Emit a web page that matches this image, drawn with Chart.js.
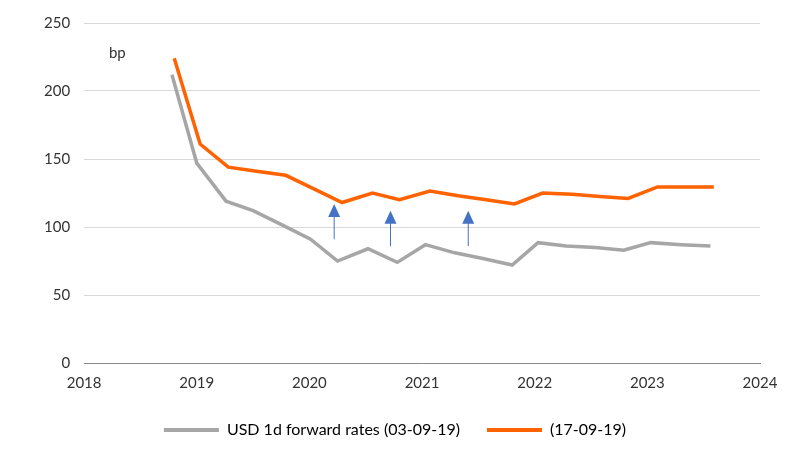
<!DOCTYPE html>
<html><head><meta charset="utf-8">
<script src="https://cdn.jsdelivr.net/npm/chart.js@4"></script>
<style>html,body{margin:0;background:#fff}#w{width:800px;height:462px}</style>
</head><body><div id="w"><canvas id="c"></canvas></div>
<script>
const grayX=[2018.78,2019.0,2019.26,2019.5,2019.77,2020.01,2020.25,2020.52,2020.78,2021.03,2021.29,2021.53,2021.8,2022.03,2022.28,2022.54,2022.79,2023.03,2023.3,2023.56];
const grayY=[212,147,119,112,101,91,75,84,74,87,81,77,72,88.5,86,85,83,88.5,87,86];
const orangeX=[2018.8,2019.03,2019.28,2019.53,2019.79,2020.04,2020.29,2020.56,2020.8,2021.07,2021.32,2021.57,2021.82,2022.07,2022.33,2022.58,2022.83,2023.09,2023.34,2023.59];
const orangeY=[224,161,144,141,138,128,118,125,120,126.5,123,120,117,125,124,122.5,121,129.5,129.5,129.5];
const arrowX=[2020.22,2020.72,2021.41];
const arrowFrom=[91,86,86];
const arrowTo=[117,112,112];
const seriesNames=['USD 1d forward rates (03-09-19)','(17-09-19)'];
const pts=(xs,ys)=>xs.map((x,i)=>({x,y:ys[i]}));
const extras={id:'extras',afterDatasetsDraw(ch){
 const {ctx,scales:{x,y}}=ch;ctx.save();
 ctx.fillStyle='#333';ctx.font='15px Lato';ctx.textAlign='left';ctx.textBaseline='middle';
 ctx.fillText('bp',x.getPixelForValue(2018.22),y.getPixelForValue(228));
 arrowX.forEach((ax,i)=>{const px=x.getPixelForValue(ax),y0=y.getPixelForValue(arrowFrom[i]),y1=y.getPixelForValue(arrowTo[i]);
  ctx.strokeStyle='#4472c4';ctx.lineWidth=1;ctx.beginPath();ctx.moveTo(px,y0);ctx.lineTo(px,y1+8);ctx.stroke();
  ctx.fillStyle='#4472c4';ctx.beginPath();ctx.moveTo(px,y1);ctx.lineTo(px-6,y1+13);ctx.lineTo(px+6,y1+13);ctx.closePath();ctx.fill();});
 ctx.restore();}};
new Chart(document.getElementById('c'),{type:'line',
 data:{datasets:[
  {label:seriesNames[0],data:pts(grayX,grayY),borderColor:'#a6a6a6',backgroundColor:'#a6a6a6',borderWidth:3.5,pointRadius:0,tension:0},
  {label:seriesNames[1],data:pts(orangeX,orangeY),borderColor:'#ff6200',backgroundColor:'#ff6200',borderWidth:3.5,pointRadius:0,tension:0}]},
 options:{responsive:true,maintainAspectRatio:false,animation:false,
  layout:{padding:{left:30,right:40,top:10,bottom:14}},
  plugins:{legend:{position:'bottom',labels:{font:{size:16,family:'Lato'},color:'#333',boxWidth:55,boxHeight:0,padding:27,
    generateLabels:ch=>ch.data.datasets.map((d,i)=>({text:d.label,strokeStyle:d.borderColor,fillStyle:d.borderColor,lineWidth:4,datasetIndex:i}))}},tooltip:{enabled:false}},
  scales:{x:{type:'linear',min:2018,max:2024,grid:{display:false},border:{color:'#888'},ticks:{stepSize:1,color:'#333',font:{size:15,family:'Lato'},callback:v=>String(v)}},
   y:{min:0,max:250,grid:{color:'#d9d9d9',drawTicks:false},border:{display:false},ticks:{stepSize:50,padding:14,color:'#333',font:{size:15,family:'Lato'}}}}},
 plugins:[extras]});
</script></body></html>
